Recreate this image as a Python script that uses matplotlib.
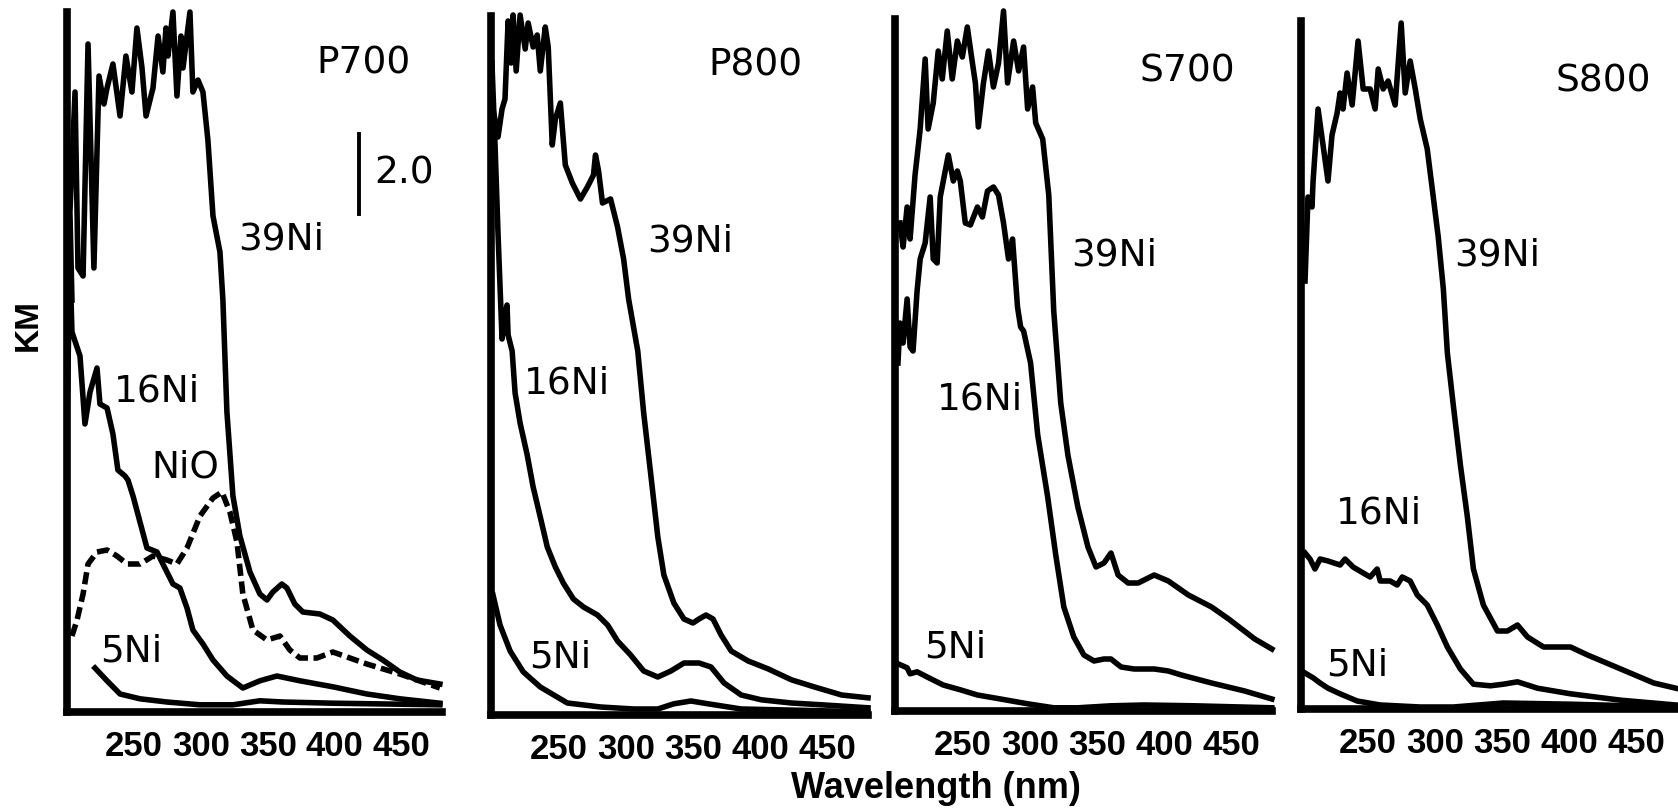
import matplotlib
matplotlib.use("Agg")
import matplotlib.pyplot as plt

# ---- data: wavelength (nm) and KM values ----
p700_39_wl = [203.7, 202.2, 206, 208.2, 212, 215.7, 220.1, 223.9, 227.6, 229.9, 234.3, 239.6, 244, 248.5,
              252.2, 256, 259, 264.2, 268, 271.6, 273.9, 275.4, 279.1, 282.1, 285.1, 286.6, 291.8, 294,
              297.8, 301.5, 305.2, 309, 314.2, 316.4, 319.4, 323.9, 329.1, 336.6, 344, 349.3, 353.7,
              360.4, 364.2, 370.1, 376.1, 388.8, 398.5, 411.2, 423.9, 435.8, 448.5, 461.2, 478.4]
p700_39_km = [10.3, 12.5, 15.5, 11.1, 10.9, 16.7, 11.1, 15.9, 15.2, 15.6, 16.2, 14.9, 16.4, 15.5,
              17.1, 16.1, 14.9, 15.6, 16.9, 16.0, 17.1, 16.4, 17.5, 15.4, 16.9, 16.1, 17.5, 15.5,
              15.8, 15.5, 14.3, 12.4, 11.5, 10.3, 7.5, 5.4, 4.4, 3.5, 2.95, 2.8, 3.0,
              3.2, 3.1, 2.7, 2.5, 2.45, 2.3, 1.9, 1.55, 1.3, 1.0, 0.8, 0.7]
p700_16_wl = [200, 202.2, 203.7, 209.7, 213.4, 217.2, 222.4, 224.6, 229.9, 234.3, 238, 243.3, 245.5,
              249.3, 254.5, 259.7, 267.2, 271.6, 279.1, 284.3, 289.6, 294, 301.5, 309, 319.4, 331.3,
              344, 356.7, 373.9, 398.5, 423.9, 448.5, 478.4]
p700_16_km = [7.3, 11.25, 9.5, 8.9, 7.2, 8.0, 8.6, 7.7, 7.6, 6.95, 6.05, 5.9, 5.8,
              5.4, 4.75, 4.1, 4.0, 3.7, 3.2, 3.1, 2.6, 2.05, 1.7, 1.3, 0.9, 0.6,
              0.78, 0.9, 0.78, 0.63, 0.45, 0.33, 0.22]
p700_nio_wl = [203.7, 207.5, 212, 215.7, 222.4, 229.9, 237.3, 244.8, 254.5, 264.2, 274.6, 282.1, 289.6,
               299.3, 309, 315.7, 321.6, 326.9, 331.3, 338.8, 349.3, 359, 366.4, 373.9, 386.6, 398.5,
               423.9, 448.5, 478.4]
p700_nio_km = [1.9, 2.3, 2.95, 3.7, 4.0, 4.05, 3.9, 3.7, 3.7, 3.9, 3.8, 3.7, 4.1,
               4.9, 5.35, 5.5, 5.0, 4.25, 2.95, 2.05, 1.8, 1.9, 1.55, 1.35, 1.35, 1.5,
               1.2, 0.95, 0.6]
p700_5_wl = [220.9, 229.9, 239.6, 254.5, 274.6, 299.3, 323.9, 344, 361.2, 398.5, 478.4]
p700_5_km = [1.1, 0.78, 0.45, 0.33, 0.25, 0.18, 0.18, 0.28, 0.25, 0.22, 0.18]

p800_39_wl = [201.5, 205.2, 208.2, 210.4, 212.7, 214.9, 216.4, 218.7, 221.6, 225.4, 227.6, 231.3, 234.3,
              236.6, 240.3, 242.5, 245.5, 247.8, 251.5, 255.2, 260.4, 266.4, 271.6, 276.1, 277.6, 279.9,
              282.8, 288.8, 294, 298.5, 302.2, 309, 313.4, 318.7, 323.9, 328.4, 335.8, 343.3, 350,
              354.5, 359.7, 364.9, 370.9, 378.4, 391, 406, 423.1, 440.3, 460.4, 480]
p800_39_km = [15.15, 14.45, 15.15, 15.4, 17.35, 16.3, 17.5, 16.1, 17.5, 16.65, 17.3, 16.7, 17.0,
              16.1, 17.2, 16.7, 14.25, 14.9, 15.3, 13.75, 13.3, 12.9, 13.2, 13.5, 14.0, 13.6,
              12.8, 12.9, 12.2, 11.4, 10.4, 9.1, 7.55, 6.0, 4.45, 3.5, 2.8, 2.4, 2.3,
              2.4, 2.5, 2.4, 2.0, 1.6, 1.35, 1.15, 0.88, 0.7, 0.5, 0.43]
p800_16_wl = [200.7, 203, 205.2, 208.2, 210.4, 211.9, 212.7, 215.7, 217.9, 221.6, 226.9, 231.3, 236.6,
              241.8, 247.8, 253.7, 261.2, 268.7, 279.1, 286.6, 294, 303.7, 313.4, 323.9, 333.6, 343.3,
              354.5, 363.4, 373.1, 385.8, 400.7, 423.1, 447.8, 480]
p800_16_km = [16.3, 14.25, 12.05, 9.4, 10.0, 10.25, 9.5, 9.1, 8.05, 7.3, 6.5, 5.7, 4.95,
              4.2, 3.7, 3.3, 2.9, 2.7, 2.5, 2.25, 1.85, 1.5, 1.1, 0.95, 1.1, 1.3,
              1.3, 1.2, 0.8, 0.5, 0.38, 0.3, 0.25, 0.18]
p800_5_wl = [201.5, 206.7, 214.2, 223.9, 236.6, 256.7, 281.3, 306, 323.9, 335.8, 348.5, 361.2, 385.8, 480]
p800_5_km = [3.0, 2.25, 1.6, 1.08, 0.7, 0.3, 0.2, 0.15, 0.15, 0.28, 0.35, 0.28, 0.15, 0.08]

s700_39_wl = [203.7, 206, 209, 211.2, 214.9, 218.7, 222.4, 224.6, 228.4, 232.1, 235.1, 238.8, 242.5,
              246.3, 250, 253.7, 257.5, 259.7, 261.9, 265.7, 269.4, 273.1, 276.9, 280.6, 283.6, 288.1,
              291.8, 295.5, 298.5, 302.2, 304.5, 309.7, 314.2, 317.9, 323.1, 328.4, 335.8, 343.3, 349.3,
              355.2, 360.4, 365.7, 373.1, 380.6, 392.5, 403, 417.9, 435.1, 447.8, 467.2, 479.9]
s700_39_km = [12.2, 11.6, 12.6, 11.8, 13.4, 14.55, 16.3, 14.55, 15.2, 16.5, 15.8, 17.0, 15.8,
              16.75, 16.35, 17.1, 16.2, 15.7, 14.6, 15.7, 16.5, 15.6, 16.2, 17.5, 15.7, 16.75,
              16.0, 16.6, 15.05, 15.6, 14.7, 14.3, 12.9, 10.0, 7.7, 6.4, 5.1, 4.1, 3.6,
              3.7, 3.95, 3.4, 3.2, 3.2, 3.4, 3.25, 2.9, 2.6, 2.3, 1.8, 1.55]
s700_16_wl = [202.2, 203.7, 206, 209, 211.2, 213.4, 216.4, 218.7, 222.4, 226.1, 228.4, 231.3, 233.6,
              237.3, 239.6, 243.3, 246.3, 248.5, 252.2, 256, 261.2, 264.9, 268.7, 273.1, 276.9, 280.6,
              284.3, 287.3, 291, 293.3, 295.5, 300.7, 306, 313.4, 319.4, 325.4, 332.8, 340.3, 347.8,
              355.2, 360.4, 367.9, 377.6, 392.5, 403, 412.7, 435.1, 459.7, 479.9]
s700_16_km = [8.7, 9.7, 9.2, 10.3, 9.1, 9.0, 10.5, 11.3, 11.7, 12.85, 11.3, 11.2, 12.85,
              13.5, 13.9, 13.25, 13.5, 13.25, 12.2, 12.15, 12.6, 12.35, 13.0, 13.1, 12.9, 12.2,
              11.3, 11.8, 10.1, 9.6, 9.5, 8.7, 6.9, 5.35, 3.9, 2.6, 1.85, 1.4, 1.25,
              1.3, 1.3, 1.1, 1.05, 1.05, 1.0, 0.9, 0.7, 0.5, 0.3]
s700_5_wl = [202.2, 209, 211.2, 216.4, 223.9, 235.8, 248.5, 261.2, 278.4, 298.5, 317.9, 335.8, 360.4,
             385.1, 422.4, 479.9]
s700_5_km = [1.18, 1.08, 0.93, 0.98, 0.85, 0.65, 0.53, 0.4, 0.3, 0.18, 0.08, 0.08, 0.13,
             0.15, 0.13, 0.08]

s800_39_wl = [203, 205.2, 208.2, 209, 212.7, 216.4, 220.1, 223.1, 226.9, 229.1, 231.3, 234.3, 238.1,
              242.5, 246.3, 251.5, 255.2, 257.5, 261.2, 264.9, 270.1, 274.6, 277.6, 281.3, 285.1, 288.8,
              294, 298.5, 302.2, 306, 309, 313.4, 318.7, 323.9, 328.4, 335.8, 346.3, 353.7, 361.2,
              368.7, 380.6, 400.7, 413.4, 438.1, 462.7, 479.1]
s800_39_km = [10.7, 12.8, 12.55, 13.2, 15.0, 14.1, 13.2, 14.35, 14.9, 15.4, 15.0, 15.9, 15.1,
              16.7, 15.5, 15.5, 15.0, 16.0, 15.5, 15.7, 15.1, 17.15, 15.4, 16.2, 15.5, 14.75,
              14.0, 12.8, 11.8, 10.5, 8.9, 7.6, 6.1, 4.8, 3.5, 2.6, 1.95, 1.95, 2.1,
              1.8, 1.55, 1.55, 1.35, 1.0, 0.65, 0.52]
s800_16_wl = [203, 206.7, 210.4, 214.2, 220.1, 229.1, 232.8, 238.8, 246.3, 251.5, 256.7, 259, 266.4,
              271.6, 275.4, 281.3, 286.6, 294, 301.5, 309, 318.7, 328.4, 341, 350.7, 361.2, 376.1,
              400.7, 438.1, 479.1]
s800_16_km = [3.9, 3.75, 3.5, 3.75, 3.7, 3.6, 3.75, 3.55, 3.4, 3.3, 3.5, 3.2, 3.2,
              3.1, 3.3, 3.2, 2.85, 2.6, 2.1, 1.55, 1.0, 0.62, 0.58, 0.62, 0.68, 0.52,
              0.38, 0.22, 0.1]
s800_5_wl = [203, 209, 214.2, 220.1, 229.1, 241.8, 259, 288.8, 313.4, 350.7, 400.7, 479.1]
s800_5_km = [0.9, 0.78, 0.65, 0.52, 0.38, 0.2, 0.1, 0.05, 0.05, 0.15, 0.12, 0.05]

tick_values = [250, 300, 350, 400, 450]
tick_labels = ["250", "300", "350", "400", "450"]
panel_names = ["P700", "P800", "S700", "S800"]

W, H = 1678, 810
fig = plt.figure(figsize=(W / 100, H / 100), dpi=100)

# axes boxes in pixels: left, right, bottom, top
boxes = [(67, 442, 712, 12), (491, 868, 715, 16), (895, 1272, 711, 19), (1301, 1677, 709, 21)]
px_per_km = 40.0

curves = [
    [(p700_39_wl, p700_39_km, "-"), (p700_16_wl, p700_16_km, "-"), (p700_nio_wl, p700_nio_km, "--"),
     (p700_5_wl, p700_5_km, "-")],
    [(p800_39_wl, p800_39_km, "-"), (p800_16_wl, p800_16_km, "-"), (p800_5_wl, p800_5_km, "-")],
    [(s700_39_wl, s700_39_km, "-"), (s700_16_wl, s700_16_km, "-"), (s700_5_wl, s700_5_km, "-")],
    [(s800_39_wl, s800_39_km, "-"), (s800_16_wl, s800_16_km, "-"), (s800_5_wl, s800_5_km, "-")],
]

# label positions in data coords (wavelength, KM)
labels = [
    [("P700", 421.6, 16.2), ("39Ni", 359.7, 11.8), ("16Ni", 267.2, 8.0), ("NiO", 288, 6.1),
     ("5Ni", 247.8, 1.5)],
    [("P800", 396.3, 16.25), ("39Ni", 347.8, 11.85), ("16Ni", 256.7, 8.3), ("5Ni", 251.5, 1.45)],
    [("S700", 417.2, 16.0), ("39Ni", 362.7, 11.4), ("16Ni", 263.4, 7.8), ("5Ni", 244.8, 1.6)],
    [("S800", 425.4, 15.7), ("39Ni", 346.3, 11.35), ("16Ni", 258.2, 4.9), ("5Ni", 241.8, 1.1)],
]

tick_font = {"family": "Liberation Sans", "weight": "bold", "size": 25}

axes = []
for i, (l, r, b, t) in enumerate(boxes):
    ax = fig.add_axes([l / W, 1 - b / H, (r - l) / W, (b - t) / H])
    ax.set_xlim(200, 480)
    ax.set_ylim(0, (b - t) / px_per_km)
    for x, y, ls in curves[i]:
        if ls == "--":
            ax.plot(x, y, color="black", lw=4, linestyle=(0, (2.2, 1.0)), clip_on=False)
        else:
            ax.plot(x, y, color="black", lw=4, clip_on=False, solid_joinstyle="round")
    for txt, x, y in labels[i]:
        ax.text(x, y, txt, ha="center", va="center", fontsize=27, family="DejaVu Sans")
    ax.spines["top"].set_visible(False)
    ax.spines["right"].set_visible(False)
    ax.spines["left"].set_linewidth(5.5)
    ax.spines["bottom"].set_linewidth(5.5)
    ax.set_yticks([])
    ax.set_xticks(tick_values)
    ax.set_xticklabels(tick_labels, fontdict=tick_font)
    ax.tick_params(axis="x", length=0, pad=13)
    ax.patch.set_alpha(0)
    axes.append(ax)

# scale bar in first panel
axes[0].plot([417.9, 417.9], [12.45, 14.45], color="black", lw=2.8, clip_on=False)
axes[0].text(429.5, 13.45, "2.0", ha="left", va="center", fontsize=27, family="DejaVu Sans")

fig.text(936 / W, 1 - 789 / H, "Wavelength (nm)", ha="center", va="center",
         family="Liberation Sans", weight="bold", fontsize=26)
fig.text(28 / W, 1 - 325 / H, "KM", ha="center", va="center", rotation=90,
         family="Liberation Sans", weight="bold", fontsize=24)

fig.savefig("out.png", dpi=100)
